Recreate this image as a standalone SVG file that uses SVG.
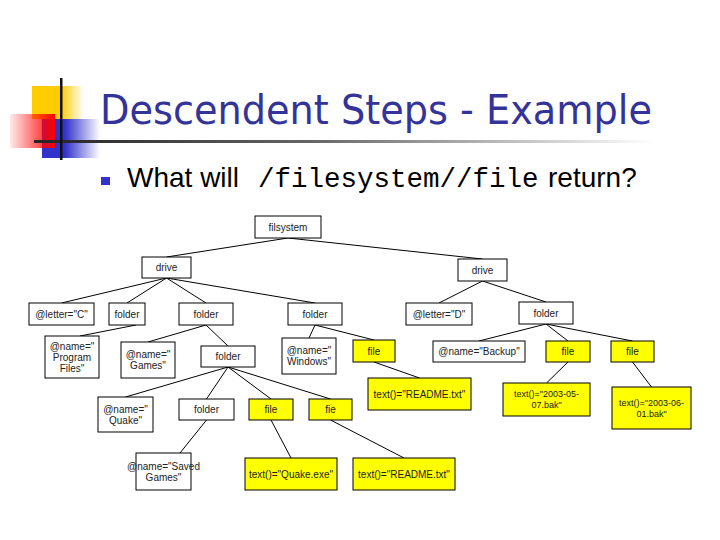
<svg xmlns="http://www.w3.org/2000/svg" width="720" height="540" viewBox="0 0 720 540">
<defs>
<linearGradient id="gy" x1="0" y1="0" x2="1" y2="0"><stop offset="0" stop-color="#ffcc00"/><stop offset="0.55" stop-color="#ffcc00"/><stop offset="1" stop-color="#ffcc00" stop-opacity="0"/></linearGradient>
<linearGradient id="gb" x1="0" y1="0" x2="1" y2="0"><stop offset="0" stop-color="#3333cc"/><stop offset="0.4" stop-color="#3333cc"/><stop offset="1" stop-color="#3333cc" stop-opacity="0"/></linearGradient>
<linearGradient id="gr" x1="0" y1="0" x2="1" y2="0"><stop offset="0" stop-color="#ff0000" stop-opacity="0.08"/><stop offset="1" stop-color="#ff0000"/></linearGradient>
<linearGradient id="gl" x1="0" y1="0" x2="1" y2="0"><stop offset="0" stop-color="#222"/><stop offset="0.45" stop-color="#666"/><stop offset="1" stop-color="#666" stop-opacity="0"/></linearGradient>
<style>
.n rect{stroke:#000;stroke-width:1}
.w rect{fill:#fff}
.y rect{fill:#ffff00}
.n text{font-family:"Liberation Sans",Arial,sans-serif;font-size:10px;fill:#222;text-anchor:middle}
.n text.s{font-size:9px}
#edges line{stroke:#000;stroke-width:1}
</style>
</defs>
<rect width="720" height="540" fill="#fff"/>
<g id="decor">
<rect x="32" y="86" width="52" height="33" fill="url(#gy)"/>
<rect x="42" y="119" width="58" height="39" fill="url(#gb)"/>
<rect x="10" y="114" width="45" height="34" fill="url(#gr)"/>
<rect x="34" y="140" width="620" height="3" fill="url(#gl)"/>
<rect x="60" y="78" width="2.5" height="82" fill="#111"/>
</g>
<text x="100" y="124" font-family="DejaVu Sans,sans-serif" font-size="40" fill="#333399" textLength="552" lengthAdjust="spacingAndGlyphs">Descendent Steps - Example</text>
<rect x="101" y="177" width="9" height="8" fill="#3333cc"/>
<text y="187" font-size="28" font-family="Liberation Sans,Arial,sans-serif" fill="#000"><tspan x="127">What will</tspan><tspan x="258" font-family="Liberation Mono,Courier New,monospace" font-size="27.5">/filesystem//file</tspan><tspan x="548">return?</tspan></text>
<g id="edges">
<line x1="288" y1="238" x2="166.5" y2="257"/>
<line x1="288" y1="238" x2="482.5" y2="259"/>
<line x1="166.5" y1="278" x2="61.5" y2="303"/>
<line x1="166.5" y1="278" x2="127" y2="303"/>
<line x1="166.5" y1="278" x2="206" y2="303"/>
<line x1="166.5" y1="278" x2="315" y2="303"/>
<line x1="482.5" y1="281" x2="439" y2="303"/>
<line x1="482.5" y1="281" x2="546" y2="302"/>
<line x1="136" y1="325" x2="80" y2="336"/>
<line x1="206" y1="325" x2="148" y2="342"/>
<line x1="206" y1="325" x2="228" y2="346"/>
<line x1="315" y1="325" x2="309" y2="338"/>
<line x1="315" y1="325" x2="374" y2="340"/>
<line x1="546" y1="324" x2="479" y2="341"/>
<line x1="546" y1="324" x2="568" y2="341"/>
<line x1="546" y1="324" x2="632.5" y2="341"/>
<line x1="374" y1="362" x2="419.5" y2="378"/>
<line x1="568" y1="362" x2="546.5" y2="383"/>
<line x1="632.5" y1="362" x2="651.5" y2="387"/>
<line x1="228" y1="367" x2="125.5" y2="397"/>
<line x1="228" y1="367" x2="206.5" y2="399"/>
<line x1="228" y1="367" x2="271" y2="399"/>
<line x1="228" y1="367" x2="330.5" y2="399"/>
<line x1="206.5" y1="420" x2="180" y2="453"/>
<line x1="271" y1="420" x2="291" y2="458"/>
<line x1="330.5" y1="420" x2="404" y2="458"/>
</g>
<g id="n0" class="n w"><rect x="255" y="216" width="66" height="22"/><text x="288" y="230.5">filsystem</text></g>
<g id="n1" class="n w"><rect x="142" y="257" width="49" height="21"/><text x="166.5" y="271">drive</text></g>
<g id="n2" class="n w"><rect x="458" y="259" width="49" height="22"/><text x="482.5" y="273.5">drive</text></g>
<g id="n3" class="n w"><rect x="29" y="303" width="65" height="22"/><text x="61.5" y="317.5">@letter="C"</text></g>
<g id="n4" class="n w"><rect x="109" y="303" width="36" height="22"/><text x="127" y="317.5">folder</text></g>
<g id="n5" class="n w"><rect x="179" y="303" width="54" height="22"/><text x="206" y="317.5">folder</text></g>
<g id="n6" class="n w"><rect x="288" y="303" width="54" height="22"/><text x="315" y="317.5">folder</text></g>
<g id="n7" class="n w"><rect x="406" y="303" width="66" height="22"/><text x="439" y="317.5">@letter="D"</text></g>
<g id="n8" class="n w"><rect x="519" y="302" width="54" height="22"/><text x="546" y="316.5">folder</text></g>
<g id="n9" class="n w"><rect x="45" y="336" width="54" height="42"/><text x="72" y="349.5">@name="</text><text x="72" y="360.5">Program</text><text x="72" y="371.5">Files"</text></g>
<g id="n10" class="n w"><rect x="121" y="342" width="54" height="36"/><text x="148" y="358">@name="</text><text x="148" y="369">Games"</text></g>
<g id="n11" class="n w"><rect x="201" y="346" width="54" height="21"/><text x="228" y="360">folder</text></g>
<g id="n12" class="n w"><rect x="282" y="338" width="54" height="36"/><text x="309" y="354">@name="</text><text x="309" y="365">Windows"</text></g>
<g id="n13" class="n y"><rect x="353" y="340" width="42" height="22"/><text x="374" y="354.5">file</text></g>
<g id="n14" class="n w"><rect x="433" y="341" width="92" height="21"/><text x="479" y="355">@name="Backup"</text></g>
<g id="n15" class="n y"><rect x="546" y="341" width="44" height="21"/><text x="568" y="355">file</text></g>
<g id="n16" class="n y"><rect x="611" y="341" width="43" height="21"/><text x="632.5" y="355">file</text></g>
<g id="n17" class="n y"><rect x="368" y="378" width="103" height="32"/><text x="419.5" y="397.5">text()="README.txt"</text></g>
<g id="n18" class="n y"><rect x="503" y="383" width="87" height="33"/><text class="s" x="546.5" y="397">text()="2003-05-</text><text class="s" x="546.5" y="408">07.bak"</text></g>
<g id="n19" class="n y"><rect x="612" y="387" width="79" height="42"/><text class="s" x="651.5" y="406">text()="2003-06-</text><text class="s" x="651.5" y="417">01.bak"</text></g>
<g id="n20" class="n w"><rect x="98" y="397" width="55" height="35"/><text x="125.5" y="412.5">@name="</text><text x="125.5" y="423.5">Quake"</text></g>
<g id="n21" class="n w"><rect x="179" y="399" width="55" height="21"/><text x="206.5" y="413">folder</text></g>
<g id="n22" class="n y"><rect x="249" y="399" width="44" height="21"/><text x="271" y="413">file</text></g>
<g id="n23" class="n y"><rect x="309" y="399" width="43" height="21"/><text x="330.5" y="413">fie</text></g>
<g id="n24" class="n w"><rect x="136" y="453" width="55" height="37"/><text x="163.5" y="469.5">@name="Saved</text><text x="163.5" y="480.5">Games"</text></g>
<g id="n25" class="n y"><rect x="245" y="458" width="92" height="32"/><text x="291" y="477.5">text()="Quake.exe"</text></g>
<g id="n26" class="n y"><rect x="353" y="458" width="102" height="32"/><text x="404" y="477.5">text()="README.txt"</text></g>
</svg>
